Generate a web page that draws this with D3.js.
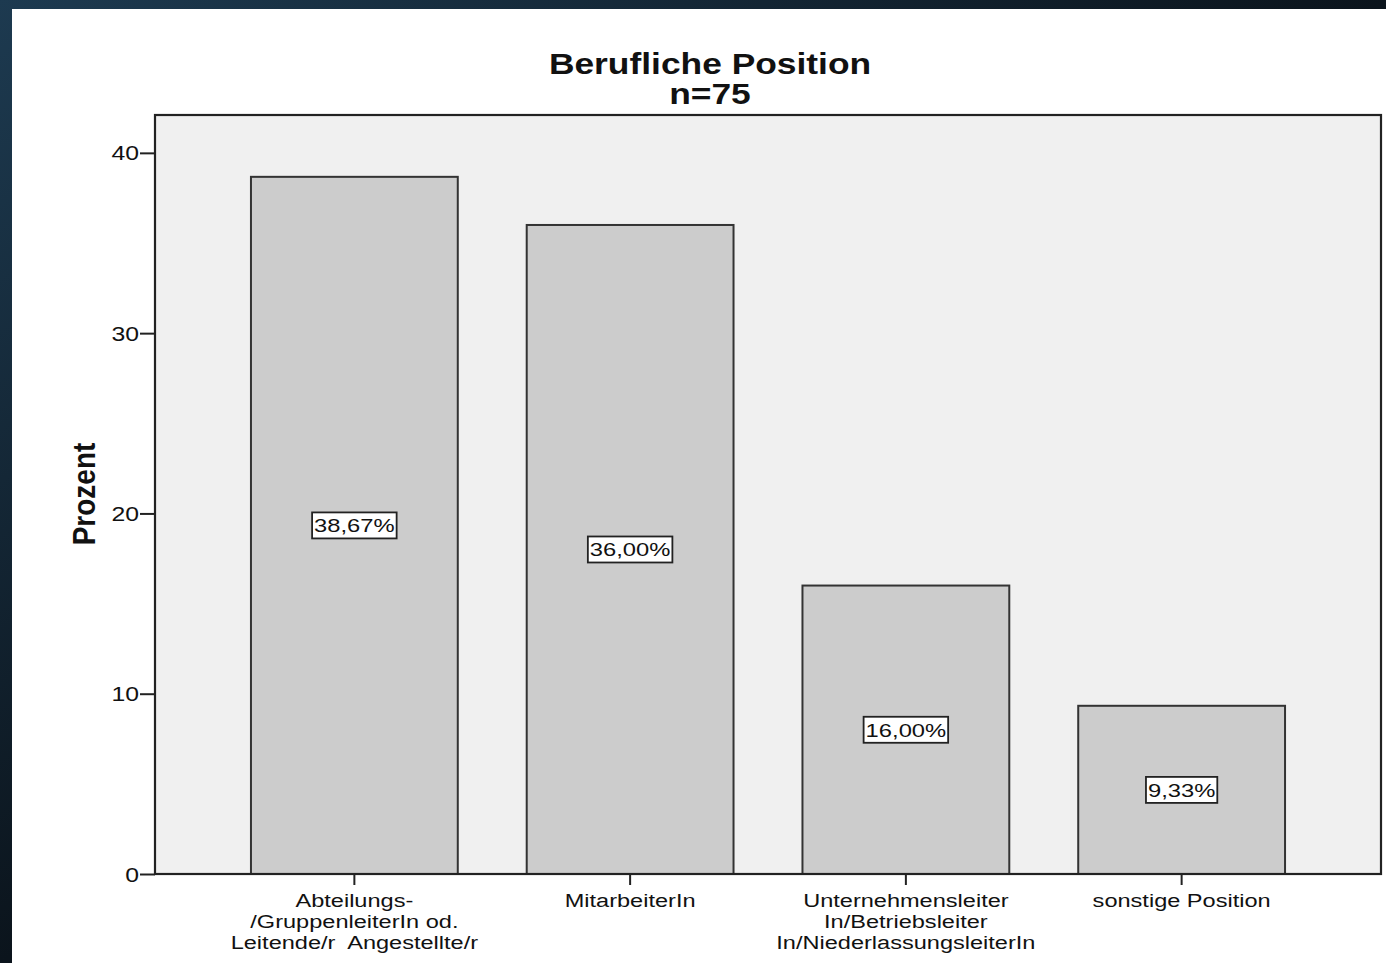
<!DOCTYPE html>
<meta charset="utf-8">
<html>
<script src="https://d3js.org/d3.v7.min.js"></script>
<style>
    body { margin: 0; background: #0f1c28; }
    svg { display: block; }
    text { font-family: "Liberation Sans", Arial, sans-serif; fill: #111; }
</style>
<body>
<div id="chart"></div>
<script>
    // data
    var categories = [
        ["Abteilungs-", "/GruppenleiterIn od.", "Leitende/r  Angestellte/r"],
        ["MitarbeiterIn"],
        ["Unternehmensleiter", "In/Betriebsleiter", "In/NiederlassungsleiterIn"],
        ["sonstige Position"]
    ];
    var percents = [38.67, 36.00, 16.00, 9.33];
    var valueLabels = ["38,67%", "36,00%", "16,00%", "9,33%"];
    var yTicks = [0, 10, 20, 30, 40];

    var W = 1386, H = 963;
    var plot = { left: 155, top: 115, right: 1381, bottom: 874 };
    // the original picture is stretched sideways, so text is widened a bit
    var stretch = 1.22;

    var svg = d3.select("#chart").append("svg")
        .attr("width", W)
        .attr("height", H);

    // dark backdrop strips + white panel
    var grad = svg.append("defs").append("linearGradient")
        .attr("id", "bg").attr("x1", 0).attr("x2", 1).attr("y1", 0).attr("y2", 1);
    grad.append("stop").attr("offset", "0%").attr("stop-color", "#1d3a50");
    grad.append("stop").attr("offset", "50%").attr("stop-color", "#0b141c");
    grad.append("stop").attr("offset", "100%").attr("stop-color", "#1a2f40");
    svg.append("rect").attr("width", W).attr("height", H).attr("fill", "url(#bg)");
    svg.append("rect").attr("x", 12).attr("y", 9).attr("width", W - 12).attr("height", H - 9)
        .attr("fill", "#ffffff");

    // text placed at (x,y), widened horizontally by sx
    function wideText(parent, x, y, str, size, sx, bold) {
        var g = parent.append("g")
            .attr("transform", "translate(" + x + "," + y + ") scale(" + sx + ",1)");
        return g.append("text")
            .attr("text-anchor", "middle")
            .style("font-size", size + "px")
            .style("font-weight", bold ? "bold" : "normal")
            .attr("xml:space", "preserve")
            .text(str);
    }

    var x = d3.scaleBand()
        .domain(d3.range(categories.length))
        .range([plot.left, plot.right])
        .paddingInner(0.25)
        .paddingOuter(0.348);

    var y = d3.scaleLinear()
        .domain([0, 42.1])
        .range([plot.bottom, plot.top]);

    // plot background
    svg.append("rect")
        .attr("x", plot.left).attr("y", plot.top)
        .attr("width", plot.right - plot.left)
        .attr("height", plot.bottom - plot.top)
        .attr("fill", "#f0f0f0");

    // bars
    svg.selectAll("rect.bar")
        .data(percents).enter().append("rect")
        .attr("class", "bar")
        .attr("x", function (d, i) { return x(i); })
        .attr("y", function (d) { return y(d); })
        .attr("width", x.bandwidth())
        .attr("height", function (d) { return y(0) - y(d); })
        .attr("fill", "#cccccc")
        .attr("stroke", "#333333")
        .attr("stroke-width", 2);

    // value labels in boxes
    percents.forEach(function (d, i) {
        var cx = x(i) + x.bandwidth() / 2;
        var cy = (y(d) + y(0)) / 2;
        var box = svg.append("rect");
        var t = wideText(svg, cx, cy, valueLabels[i], 19, 1.25, false)
            .attr("dy", "0.36em");
        var w = t.node().getBBox().width * 1.25;
        box.attr("x", cx - w / 2 - 2).attr("y", cy - 13)
            .attr("width", w + 4).attr("height", 26)
            .attr("fill", "#ffffff")
            .attr("stroke", "#222")
            .attr("stroke-width", 1.8);
    });

    // frame
    svg.append("rect")
        .attr("x", plot.left).attr("y", plot.top)
        .attr("width", plot.right - plot.left)
        .attr("height", plot.bottom - plot.top)
        .attr("fill", "none")
        .attr("stroke", "#222")
        .attr("stroke-width", 2.2);

    // Y axis (ticks from d3, labels widened by hand)
    var yAxis = svg.append("g")
        .attr("transform", "translate(" + plot.left + ",0)")
        .call(d3.axisLeft(y).tickValues(yTicks).tickSize(15).tickFormat(""));
    yAxis.select(".domain").remove();
    yAxis.selectAll("line").attr("stroke", "#222").attr("stroke-width", 2);
    yTicks.forEach(function (v) {
        wideText(svg, plot.left - 16, y(v), String(v), 21, 1.18, false)
            .attr("text-anchor", "end")
            .attr("dy", "0.36em");
    });

    // X axis
    var xAxis = svg.append("g")
        .attr("transform", "translate(0," + plot.bottom + ")")
        .call(d3.axisBottom(x).tickSize(11).tickFormat(""));
    xAxis.select(".domain").remove();
    xAxis.selectAll("line").attr("stroke", "#222").attr("stroke-width", 2);

    categories.forEach(function (lines, i) {
        lines.forEach(function (l, j) {
            wideText(svg, x(i) + x.bandwidth() / 2, 907 + j * 21, l, 19, 1.24, false);
        });
    });

    // Y label
    svg.append("g")
        .attr("transform", "translate(95,494) scale(1.1,1) rotate(-90)")
        .append("text")
        .attr("text-anchor", "middle")
        .style("font-size", "28px")
        .style("font-weight", "bold")
        .text("Prozent");

    // title
    wideText(svg, 710, 74, "Berufliche Position", 29, stretch, true);
    wideText(svg, 710, 104, "n=75", 29, stretch, true);
</script>
</body>
</html>
